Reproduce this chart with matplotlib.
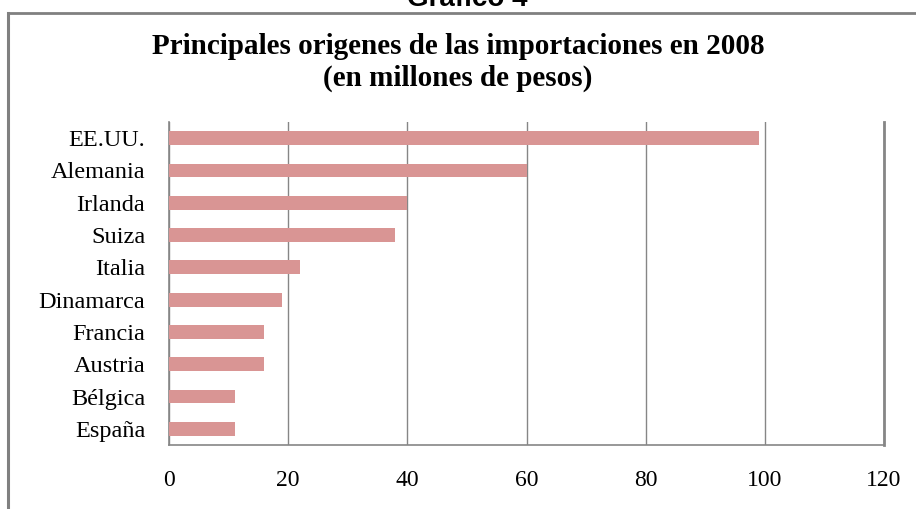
import matplotlib
matplotlib.use("Agg")
import matplotlib.pyplot as plt
from matplotlib.lines import Line2D

categories = ["EE.UU.", "Alemania", "Irlanda", "Suiza", "Italia",
              "Dinamarca", "Francia", "Austria", "Bélgica", "España"]
values = [99, 60, 40, 38, 22, 19, 16, 16, 11, 11]
xticks = [0, 20, 40, 60, 80, 100, 120]

W, H = 916, 509
fig = plt.figure(figsize=(W / 100, H / 100), dpi=100)
fig.patch.set_facecolor("white")

ax = fig.add_axes([169 / W, 1 - 445 / H, (884 - 169) / W, (445 - 122) / H])
ypos = list(range(len(categories)))
ax.barh(ypos, values, height=0.43, color="#D99594", zorder=3)
ax.set_ylim(len(categories) - 0.5, -0.5)
ax.set_xlim(0, 120)
ax.set_xticks(xticks)
ax.set_xticklabels([str(t) for t in xticks])
ax.set_yticks(ypos)
ax.set_yticklabels(categories)
ax.grid(axis="x", color="#868686", linewidth=1.0, zorder=0)
ax.grid(axis="y", visible=False)
for s in ["left", "bottom"]:
    ax.spines[s].set_color("#868686")
    ax.spines[s].set_linewidth(1.2)
ax.spines["top"].set_visible(False)
ax.spines["right"].set_color("#868686")
ax.spines["right"].set_linewidth(2.0)
ax.tick_params(axis="both", length=0)
ax.tick_params(axis="x", pad=18, labelsize=17)
ax.tick_params(axis="y", pad=17, labelsize=17.5)
for lab in ax.get_xticklabels() + ax.get_yticklabels():
    lab.set_family("Liberation Serif")

fig.text(0.5, 1 - 47 / H, "Principales origenes de las importaciones en 2008",
         ha="center", va="center", fontsize=21, fontweight="bold",
         family="Liberation Serif")
fig.text(0.5, 1 - 78 / H, "(en millones de pesos)",
         ha="center", va="center", fontsize=21, fontweight="bold",
         family="Liberation Serif")

fig.text(467 / W, 1 - 6 / H, "Gráfico 4", ha="center", va="baseline",
         fontsize=20, fontweight="bold", family="Liberation Sans")

# outer chart frame
fig.add_artist(Line2D([8 / W, 8 / W], [0, 1 - 13 / H], transform=fig.transFigure,
                      color="#808080", linewidth=2.2))
fig.add_artist(Line2D([8 / W, 1], [1 - 13 / H, 1 - 13 / H], transform=fig.transFigure,
                      color="#808080", linewidth=2.0))

fig.savefig("out.png", dpi=100)
